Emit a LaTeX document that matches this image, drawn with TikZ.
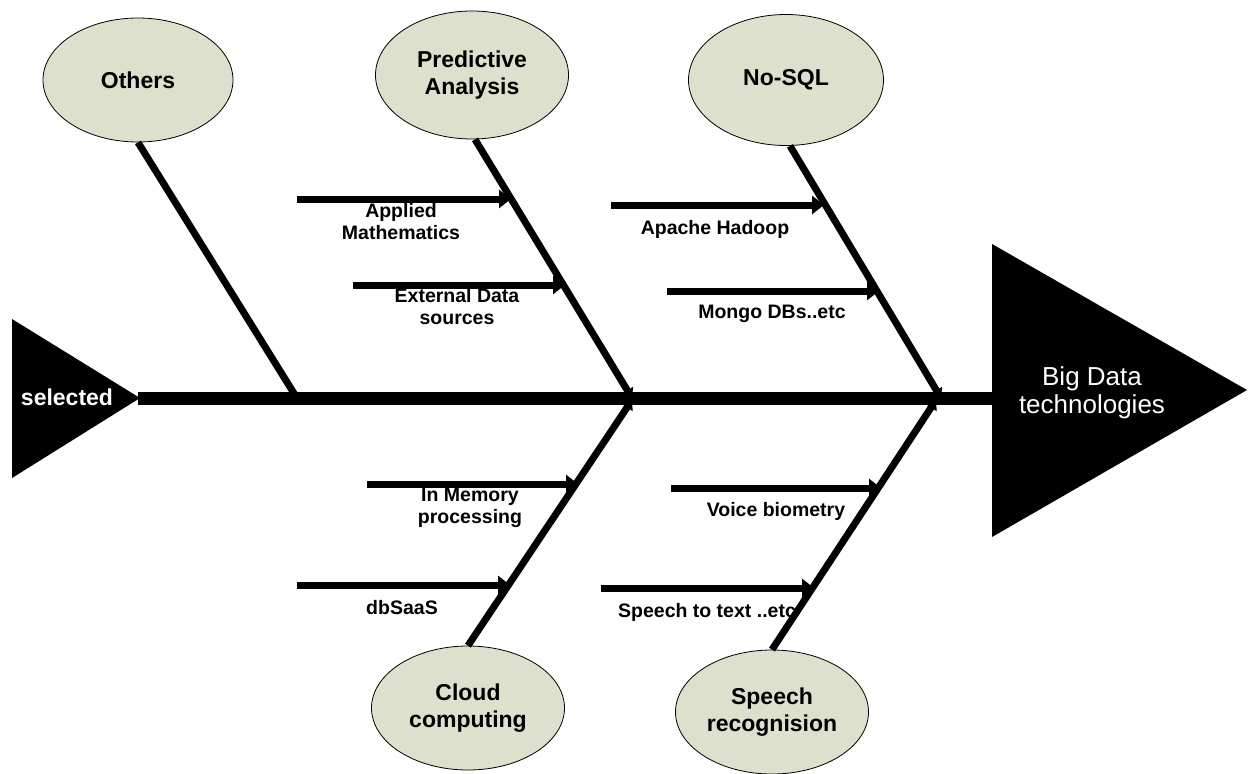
\documentclass[tikz,border=0pt]{standalone}
\usepackage{fontspec}
\setmainfont{Liberation Sans}
\usetikzlibrary{shapes.geometric,arrows.meta}
\definecolor{ellfill}{RGB}{221,224,204}
\begin{document}
\begin{tikzpicture}[x=1pt,y=-1pt,
  cause/.style={ellipse,draw=black,line width=0.8pt,fill=ellfill,minimum width=193pt,minimum height=126pt,inner sep=0pt,align=center,font=\fontsize{23}{27}\selectfont\bfseries},
  bone/.style={line width=7pt,-{Triangle[length=9pt,width=13pt]}},
  subarrow/.style={line width=7pt,-{Triangle[length=12pt,width=18pt]}},
  lab/.style={align=center,font=\fontsize{19.5}{22}\selectfont\bfseries,inner sep=0pt},
  spine/.style={line width=13pt},
  headtxt/.style={text=white,align=center,inner sep=0pt}
]
\useasboundingbox (0,0) rectangle (1251,774);

% head and tail
\fill[black] (12,319) -- (140,398) -- (12,478) -- cycle;
\fill[black] (992,244) -- (1247,390) -- (992,537) -- cycle;
\coordinate (tail) at (138,398);
\coordinate (headbase) at (994,398);
\node[headtxt,font=\fontsize{23}{27}\selectfont\bfseries] (sel) at (67,397) {selected};
\node[headtxt,font=\fontsize{26}{28}\selectfont] (bd) at (1092,393) {Big Data\\technologies};

% spine
\draw[spine] (tail) -- (headbase);

% junctions on spine
\coordinate (j0) at (295,395);
\coordinate (j1) at (632,398);
\coordinate (j2) at (941,398);
\coordinate (j3) at (632,400);
\coordinate (j4) at (936,400);

% causes
\node[cause,minimum width=190pt,minimum height=124pt] (oth) at (138,80) {Others};
\node[cause,minimum height=128pt] (pa) at (472,75) {Predictive\\Analysis};
\node[cause,minimum width=195pt,minimum height=131pt] (nosql) at (786,80) {No-SQL};
\node[cause,minimum height=124pt] (cc) at (468,708) {Cloud\\computing};
\node[cause,minimum height=124pt] (sr) at (772,712) {Speech\\recognision};

% bones
\draw[line width=7pt] (oth.south) -- (j0);
\draw[bone] ([xshift=3pt]pa.south) -- (j1);
\draw[bone] ([xshift=4pt]nosql.south) -- (j2);
\draw[bone] (cc.north) -- (j3);
\draw[bone] (sr.north) -- (j4);

% sub-causes
\coordinate (a1s) at (297,199); \coordinate (a1e) at (511,199);
\coordinate (a2s) at (353,285); \coordinate (a2e) at (565,285);
\coordinate (a3s) at (611,205); \coordinate (a3e) at (824,205);
\coordinate (a4s) at (667,291); \coordinate (a4e) at (879,291);
\coordinate (a5s) at (367,484); \coordinate (a5e) at (578,484);
\coordinate (a6s) at (297,585); \coordinate (a6e) at (510,585);
\coordinate (a7s) at (671,488); \coordinate (a7e) at (881,488);
\coordinate (a8s) at (601,588); \coordinate (a8e) at (814,588);
\foreach \i in {1,...,8} {\draw[subarrow] (a\i s) -- (a\i e);}

\node[lab] (l1) at (401,222) {Applied\\Mathematics};
\node[lab] (l2) at (457,307) {External Data\\sources};
\node[lab] (l3) at (715,229) {Apache Hadoop};
\node[lab] (l4) at (772,314) {Mongo DBs..etc};
\node[lab] (l5) at (470,508) {In Memory\\processing};
\node[lab] (l6) at (402,608) {dbSaaS};
\node[lab] (l7) at (776,511) {Voice biometry};
\node[lab] (l8) at (707,612) {Speech to text ..etc};
\end{tikzpicture}
\end{document}
